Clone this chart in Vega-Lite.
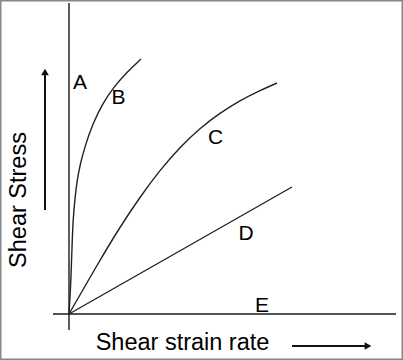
{
  "$schema": "https://vega.github.io/schema/vega-lite/v6.json",
  "width": 403,
  "height": 360,
  "padding": 0,
  "autosize": {"type": "fit", "contains": "padding"},
  "config": {"view": {"stroke": "#888888", "strokeWidth": 3}},
  "datasets": {
    "axes": [
      {"u1": 0, "v1": -16, "u2": 0, "v2": 311},
      {"u1": -16, "v1": 0, "u2": 327, "v2": 0}
    ],
    "shafts": [
      {"u1": -24, "v1": 104, "u2": -24, "v2": 239},
      {"u1": 223, "v1": -32, "u2": 297, "v2": -32}
    ],
    "heads": [
      {"u": -24, "v": 242, "shape": "triangle-up"},
      {"u": 299, "v": -32, "shape": "triangle-right"}
    ],
    "curves": [
      {"s": "B", "u": 0, "v": 0}, {"s": "B", "u": 2, "v": 34}, {"s": "B", "u": 3, "v": 67},
      {"s": "B", "u": 4, "v": 94}, {"s": "B", "u": 6, "v": 116}, {"s": "B", "u": 8, "v": 133},
      {"s": "B", "u": 11, "v": 149}, {"s": "B", "u": 16, "v": 168}, {"s": "B", "u": 24, "v": 191},
      {"s": "B", "u": 34, "v": 211}, {"s": "B", "u": 44, "v": 226}, {"s": "B", "u": 58, "v": 242},
      {"s": "B", "u": 72, "v": 255},
      {"s": "C", "u": 0, "v": 0}, {"s": "C", "u": 31, "v": 54}, {"s": "C", "u": 51, "v": 87},
      {"s": "C", "u": 71, "v": 117}, {"s": "C", "u": 91, "v": 144}, {"s": "C", "u": 111, "v": 167},
      {"s": "C", "u": 131, "v": 186}, {"s": "C", "u": 151, "v": 201}, {"s": "C", "u": 171, "v": 213.5},
      {"s": "C", "u": 191, "v": 223.5}, {"s": "C", "u": 208, "v": 231},
      {"s": "D", "u": 0, "v": 0}, {"s": "D", "u": 223, "v": 127}
    ],
    "labels": [
      {"t": "A", "u": 11, "v": 225},
      {"t": "B", "u": 49.5, "v": 210},
      {"t": "C", "u": 146.5, "v": 170},
      {"t": "D", "u": 177, "v": 74},
      {"t": "E", "u": 193, "v": 2}
    ],
    "titles": [
      {"t": "Shear strain rate", "u": 113.5, "v": -36, "a": 0},
      {"t": "Shear Stress", "u": -43, "v": 114, "a": 270}
    ]
  },
  "encoding": {
    "x": {"type": "quantitative", "scale": {"domain": [-69, 334], "nice": false, "zero": false}, "axis": null},
    "y": {"type": "quantitative", "scale": {"domain": [-46, 314], "nice": false, "zero": false}, "axis": null}
  },
  "layer": [
    {
      "data": {"name": "axes"},
      "mark": {"type": "rule", "color": "#1a1a1a", "strokeWidth": 1.4},
      "encoding": {"x": {"field": "u1"}, "y": {"field": "v1"}, "x2": {"field": "u2"}, "y2": {"field": "v2"}}
    },
    {
      "data": {"name": "shafts"},
      "mark": {"type": "rule", "color": "#111111", "strokeWidth": 2},
      "encoding": {"x": {"field": "u1"}, "y": {"field": "v1"}, "x2": {"field": "u2"}, "y2": {"field": "v2"}}
    },
    {
      "data": {"name": "heads"},
      "mark": {"type": "point", "filled": true, "color": "#111111", "size": 60, "opacity": 1},
      "encoding": {"x": {"field": "u"}, "y": {"field": "v"}, "shape": {"field": "shape", "type": "nominal", "scale": null}}
    },
    {
      "data": {"name": "curves"},
      "mark": {"type": "line", "color": "#222222", "strokeWidth": 1.4, "interpolate": "basis"},
      "encoding": {"x": {"field": "u"}, "y": {"field": "v"}, "detail": {"field": "s", "type": "nominal"}}
    },
    {
      "data": {"name": "labels"},
      "mark": {"type": "text", "font": "Liberation Sans", "fontSize": 21, "align": "center", "baseline": "alphabetic", "color": "#000000"},
      "encoding": {"x": {"field": "u"}, "y": {"field": "v"}, "text": {"field": "t"}}
    },
    {
      "data": {"name": "titles"},
      "mark": {"type": "text", "font": "Liberation Sans", "fontSize": 23.5, "align": "center", "baseline": "alphabetic", "color": "#000000"},
      "encoding": {"x": {"field": "u"}, "y": {"field": "v"}, "text": {"field": "t"}, "angle": {"field": "a", "type": "quantitative", "scale": null}}
    }
  ]
}
